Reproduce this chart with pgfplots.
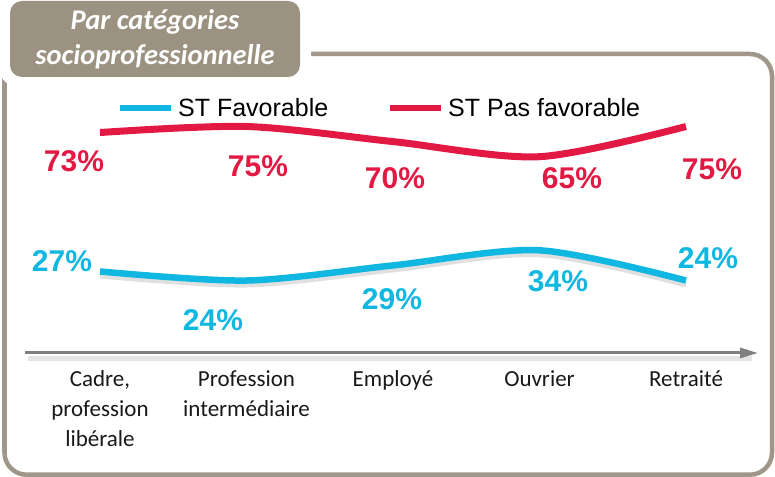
\documentclass[border=0pt]{standalone}
\usepackage{pgfplots}
\pgfplotsset{compat=1.18}
\usepackage{fontspec}
\setmainfont{Liberation Sans}
\newfontfamily\cali{Carlito}
\usetikzlibrary{arrows.meta}
\definecolor{stred}{HTML}{E21A43}
\definecolor{stblue}{HTML}{10B7E1}
\definecolor{taupe}{HTML}{9C9282}
\definecolor{framec}{HTML}{A0978A}
\definecolor{axgray}{HTML}{7F7F7F}
\newcommand\vfont{\fontsize{30bp}{36bp}\selectfont\bfseries}

\begin{document}
\begin{tikzpicture}
\begin{scope}[x=1bp,y=1bp]
\path (0,0) rectangle (775,477);
% frame and title tab
\draw[framec, line width=4.5bp, rounded corners=22bp] (4.5,423) rectangle (772,2.3);
\fill[white, rounded corners=16bp] (0,477) rectangle (311,391);
\fill[taupe, rounded corners=12bp] (10,476) rectangle (300,400);
\node[white, font=\cali\fontsize{28.5bp}{35bp}\selectfont\bfseries\itshape, align=center]
  at (155,438) {Par catégories\\socioprofessionnelle};
% category arrow
\draw[black!15, line width=5bp, opacity=0.7] (28,118) -- (752,118);
\draw[axgray, line width=3bp, -{Triangle[length=18bp,width=10bp]}] (25,124) -- (758,124);
\end{scope}

\begin{axis}[
    at={(100bp,124bp)}, anchor=south west,
    scale only axis, width=586bp, height=241.6bp,
    xmin=0, xmax=4, ymin=0, ymax=80,
    clip=false,
    axis line style={draw=none},
    ytick=\empty, major tick length=0pt,
    xtick={0,1,2,3,4},
    xticklabels={{Cadre,\\profession\\libérale},{Profession\\intermédiaire},Employé,Ouvrier,Retraité},
    xticklabel style={font=\cali\fontsize{23bp}{30bp}\selectfont, align=center, anchor=north, yshift=-14bp, text=black!90},
    legend columns=2,
    legend style={at={(0.029,1.014)}, anchor=west, draw=none, fill=none, inner sep=0pt,
      font=\fontsize{25bp}{30bp}\selectfont, column sep=2bp,
      /tikz/every even column/.append style={column sep=57bp}},
    legend image code/.code={\draw[#1, line width=6bp] (0bp,0bp) -- (51bp,0bp);},
]
\addplot[black!40, opacity=0.3, line width=6bp, smooth, yshift=-4bp, forget plot]
  coordinates {(0,27) (1,24) (2,29) (3,34) (4,24)};
\addplot[stblue, line width=6.5bp, smooth] coordinates {(0,27) (1,24) (2,29) (3,34) (4,24)};
\addlegendentry{ST Favorable}
\addplot[stred, line width=7bp, smooth] coordinates {(0,73) (1,75) (2,70) (3,65) (4,75)};
\addlegendentry{ST Pas favorable}

\node[stred, font=\vfont] at (axis cs:0,73) [xshift=-26bp, yshift=-29bp] {73\%};
\node[stred, font=\vfont] at (axis cs:1,75) [xshift=11.5bp, yshift=-40bp] {75\%};
\node[stred, font=\vfont] at (axis cs:2,70) [xshift=2bp, yshift=-37bp] {70\%};
\node[stred, font=\vfont] at (axis cs:3,65) [xshift=32.5bp, yshift=-21bp] {65\%};
\node[stred, font=\vfont] at (axis cs:4,75) [xshift=26bp, yshift=-43bp] {75\%};
\node[stblue, font=\vfont] at (axis cs:0,27) [xshift=-38bp, yshift=10bp] {27\%};
\node[stblue, font=\vfont] at (axis cs:1,24) [xshift=-33.5bp, yshift=-40bp] {24\%};
\node[stblue, font=\vfont] at (axis cs:2,29) [xshift=-1bp, yshift=-34bp] {29\%};
\node[stblue, font=\vfont] at (axis cs:3,34) [xshift=18.5bp, yshift=-31bp] {34\%};
\node[stblue, font=\vfont] at (axis cs:4,24) [xshift=22bp, yshift=22bp] {24\%};
\end{axis}
\end{tikzpicture}
\end{document}
